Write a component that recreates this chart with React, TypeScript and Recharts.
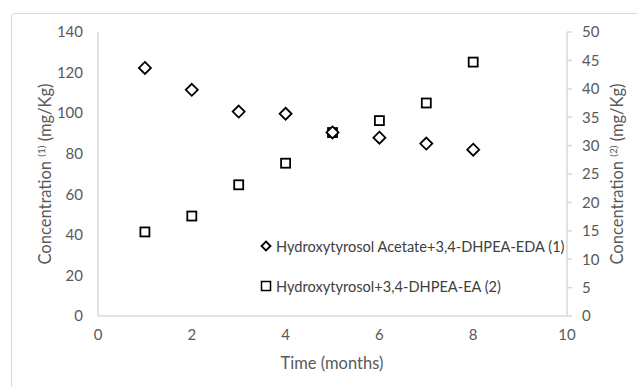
import { ScatterChart, Scatter, XAxis, YAxis } from "recharts";

const months = [1, 2, 3, 4, 5, 6, 7, 8];
const acetateEda = [122.3, 111.5, 100.8, 99.7, 90.5, 87.9, 85, 82];
const tyrosolEa = [14.8, 17.6, 23.1, 26.9, 32.3, 34.4, 37.5, 44.7];
const xTicks = [0, 2, 4, 6, 8, 10];
const leftTicks = [0, 20, 40, 60, 80, 100, 120, 140];
const rightTicks = [0, 5, 10, 15, 20, 25, 30, 35, 40, 45, 50];

const seriesA = months.map((m, i) => ({ x: m, y: acetateEda[i] }));
const seriesB = months.map((m, i) => ({ x: m, y: tyrosolEa[i] }));

const font = "Lato, 'Open Sans', sans-serif";
const axisGray = "#d9d9d9";
const tickStyle = { fill: "#595959", fontSize: 15, fontFamily: font };

const Diamond = (props: any) => {
  const { cx, cy } = props;
  const r = 6;
  return (
    <polygon
      points={`${cx},${cy - r} ${cx + r},${cy} ${cx},${cy + r} ${cx - r},${cy}`}
      fill="#fff"
      stroke="#000"
      strokeWidth={1.8}
    />
  );
};

const Square = (props: any) => {
  const { cx, cy } = props;
  const s = 4.5;
  return <rect x={cx - s} y={cy - s} width={s * 2} height={s * 2} fill="#fff" stroke="#000" strokeWidth={1.8} />;
};

const legendItems = [
  { name: "Hydroxytyrosol Acetate+3,4-DHPEA-EDA (1)", shape: "diamond" },
  { name: "Hydroxytyrosol+3,4-DHPEA-EA (2)", shape: "square" },
];

const LegendBox = () => (
  <div style={{ position: "absolute", left: 259, top: 236, fontFamily: font, fontSize: 14.6, color: "#404040" }}>
    {legendItems.map((it, i) => (
      <div key={it.name} style={{ display: "flex", alignItems: "center", height: 20, marginBottom: i === 0 ? 20 : 0 }}>
        <svg width={14} height={14} style={{ marginRight: 3 }}>
          {it.shape === "diamond" ? (
            <polygon points="7,2.5 11.5,7 7,11.5 2.5,7" fill="#fff" stroke="#000" strokeWidth={1.8} />
          ) : (
            <rect x={2.5} y={2.5} width={9} height={9} fill="#fff" stroke="#000" strokeWidth={1.5} />
          )}
        </svg>
        <span>{it.name}</span>
      </div>
    ))}
  </div>
);

const yLabel = (cx: number, cy: number, sup: string) => () => (
  <text
    x={cx}
    y={cy}
    transform={`rotate(-90 ${cx} ${cy})`}
    textAnchor="middle"
    dominantBaseline="middle"
    fill="#595959"
    fontSize={16.5}
    fontFamily={font}
  >
    Concentration <tspan fontSize={10} dy={-5}>{sup}</tspan>
    <tspan dy={5}> (mg/Kg)</tspan>
  </text>
);

export default function App() {
  return (
    <div style={{ position: "fixed", left: 0, top: 0, width: 637, height: 387, background: "#fff", overflow: "hidden" }}>
      <div
        style={{
          position: "absolute",
          left: 11,
          top: 13,
          width: 700,
          height: 450,
          border: "1px solid #d9d9d9",
          borderRadius: 3,
        }}
      />
      <div style={{ position: "absolute", left: 0, top: 0 }}>
        <ScatterChart width={637} height={387} margin={{ top: 32, right: 0, bottom: 0, left: 0 }}>
          <XAxis
            type="number"
            dataKey="x"
            domain={[0, 10]}
            ticks={xTicks}
            height={71}
            axisLine={{ stroke: axisGray, strokeWidth: 1.5 }}
            tickLine={false}
            tickSize={5}
            tickMargin={8}
            tick={tickStyle}
            label={{
              content: () => (
                <text x={332} y={369} textAnchor="middle" fill="#595959" fontSize={16.5} fontFamily={font}>
                  Time (months)
                </text>
              ),
            }}
          />
          <YAxis
            yAxisId="l"
            type="number"
            dataKey="y"
            domain={[0, 140]}
            ticks={leftTicks}
            width={98}
            axisLine={{ stroke: axisGray, strokeWidth: 1.5 }}
            tickLine={false}
            tickSize={5}
            tickMargin={10}
            tick={tickStyle}
            label={{ content: yLabel(47, 174, "(1)") }}
          />
          <YAxis
            yAxisId="r"
            orientation="right"
            type="number"
            dataKey="y"
            domain={[0, 50]}
            ticks={rightTicks}
            width={70}
            axisLine={{ stroke: axisGray, strokeWidth: 1.5 }}
            tickLine={{ stroke: axisGray, strokeWidth: 1.5 }}
            tickSize={5}
            tickMargin={10}
            tick={tickStyle}
            label={{ content: yLabel(619, 174, "(2)") }}
          />
          <Scatter yAxisId="r" data={seriesB} shape={<Square />} isAnimationActive={false} />
          <Scatter yAxisId="l" data={seriesA} shape={<Diamond />} isAnimationActive={false} />
        </ScatterChart>
      </div>
      <LegendBox />
    </div>
  );
}
